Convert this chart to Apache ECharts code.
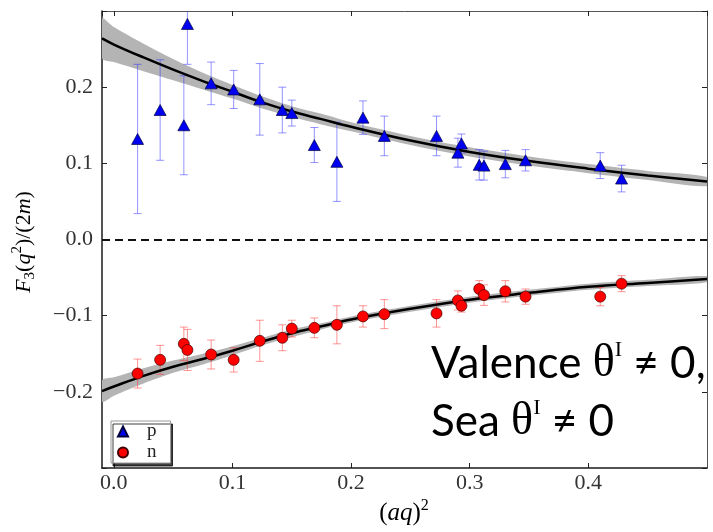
<!DOCTYPE html>
<html>
<head>
<meta charset="utf-8">
<script src="https://cdn.jsdelivr.net/npm/echarts@6/dist/echarts.min.js"></script>
<style>html,body{margin:0;padding:0;background:#fff}#c{width:713px;height:532px}</style>
</head>
<body>
<div id="c"></div>
<script>
// ---- data ----
const xs = [0.020, 0.039, 0.059, 0.062, 0.082, 0.101, 0.123, 0.142, 0.150, 0.169, 0.188, 0.210, 0.228, 0.272, 0.290, 0.293, 0.308, 0.312, 0.330, 0.347, 0.410, 0.428];
const pY = [0.132, 0.170, 0.150, 0.283, 0.205, 0.197, 0.184, 0.170, 0.166, 0.124, 0.102, 0.160, 0.136, 0.136, 0.114, 0.126, 0.098, 0.097, 0.099, 0.104, 0.097, 0.080];
const pErr = [0.098, 0.066, 0.065, 0.053, 0.028, 0.025, 0.047, 0.030, 0.017, 0.023, 0.052, 0.022, 0.026, 0.026, 0.019, 0.0125, 0.020, 0.019, 0.018, 0.014, 0.017, 0.0175];
const nY = [-0.176, -0.158, -0.137, -0.145, -0.151, -0.158, -0.133, -0.129, -0.117, -0.116, -0.112, -0.101, -0.098, -0.097, -0.080, -0.087, -0.065, -0.073, -0.068, -0.075, -0.075, -0.058];
const nErr = [0.019, 0.019, 0.022, 0.027, 0.019, 0.016, 0.027, 0.017, 0.011, 0.013, 0.025, 0.014, 0.019, 0.018, 0.0125, 0.0083, 0.011, 0.0135, 0.014, 0.010, 0.012, 0.0105];

const fitX = [-0.01, 0, 0.025, 0.05, 0.075, 0.1, 0.125, 0.15, 0.175, 0.2, 0.25, 0.3, 0.35, 0.4, 0.45, 0.5];
const fitP = [0.264, 0.256, 0.239, 0.223, 0.208, 0.194, 0.180, 0.168, 0.158, 0.148, 0.130, 0.115, 0.103, 0.093, 0.084, 0.076];
const bandP = [0.026, 0.023, 0.018, 0.014, 0.011, 0.009, 0.008, 0.007, 0.007, 0.006, 0.006, 0.006, 0.006, 0.006, 0.006, 0.006];
const fitN = [-0.199, -0.193, -0.179, -0.167, -0.157, -0.146, -0.134, -0.123, -0.114, -0.105, -0.091, -0.079, -0.070, -0.062, -0.057, -0.052];
const bandN = [0.014, 0.012, 0.010, 0.008, 0.007, 0.006, 0.005, 0.005, 0.004, 0.004, 0.004, 0.004, 0.004, 0.004, 0.004, 0.004];

const xMin = -0.01, xMax = 0.5, yMin = -0.3, yMax = 0.3;
const seriesNames = ['p', 'n'];

const SERIF = "'Liberation Serif', 'DejaVu Serif', serif";

function fmtTick(v) {
  if (Math.abs(v * 10 - Math.round(v * 10)) > 1e-6) return '';
  if (Math.abs(v) > 0.25) return '';
  const s = Math.abs(v).toFixed(1);
  return v < -1e-9 ? '\u2212' + s : s;
}
function fmtX(v) {
  if (Math.abs(v * 10 - Math.round(v * 10)) > 1e-6) return '';
  if (v > 0.45 || v < -0.001) return '';
  return Math.abs(v).toFixed(1);
}

function bandRender(fit, hw) {
  return function (params, api) {
    if (params.dataIndex !== 0) return null;
    const pts = [];
    for (let i = 0; i < fitX.length; i++) pts.push(api.coord([fitX[i], fit[i] + hw[i]]));
    for (let i = fitX.length - 1; i >= 0; i--) pts.push(api.coord([fitX[i], fit[i] - hw[i]]));
    return { type: 'polygon', shape: { points: pts, smooth: 0.3 }, style: { fill: '#b4b4b4' } };
  };
}
function errRender(color) {
  return function (params, api) {
    const x = api.value(0), y = api.value(1), e = api.value(2);
    const t = api.coord([x, y + e]), b = api.coord([x, y - e]);
    const cw = 4;
    const st = { stroke: color, lineWidth: 1 };
    return { type: 'group', children: [
      { type: 'line', shape: { x1: t[0], y1: t[1], x2: b[0], y2: b[1] }, style: st },
      { type: 'line', shape: { x1: t[0] - cw, y1: t[1], x2: t[0] + cw, y2: t[1] }, style: st },
      { type: 'line', shape: { x1: b[0] - cw, y1: b[1], x2: b[0] + cw, y2: b[1] }, style: st }
    ] };
  };
}

const chart = echarts.init(document.getElementById('c'), null, { renderer: 'canvas' });
const axisCommon = {
  type: 'value', min: xMin, max: xMax, splitNumber: 5,
  splitLine: { show: false },
  axisTick: { show: true, inside: true, length: 5, lineStyle: { color: '#222', width: 1 } }
};
const option = {
  animation: false,
  backgroundColor: '#fff',
  grid: { left: 102, right: 6, top: 11, bottom: 64 },
  xAxis: [
    Object.assign({}, axisCommon, {
      position: 'bottom',
      axisLine: { show: true, onZero: false, lineStyle: { color: '#1a1a1a', width: 1.5 } },
      axisLabel: { formatter: fmtX, fontFamily: SERIF, fontSize: 22, color: '#333', margin: 4, showMinLabel: false, showMaxLabel: false }
    }),
    Object.assign({}, axisCommon, {
      position: 'top',
      axisLine: { show: true, onZero: false, lineStyle: { color: '#555', width: 1 } },
      axisLabel: { show: false }
    })
  ],
  yAxis: [
    {
      type: 'value', min: yMin, max: yMax, interval: 0.1, position: 'left',
      splitLine: { show: false },
      axisLine: { show: true, onZero: false, lineStyle: { color: '#1a1a1a', width: 1.5 } },
      axisTick: { show: true, inside: true, length: 5, lineStyle: { color: '#222', width: 1 } },
      axisLabel: { formatter: fmtTick, fontFamily: SERIF, fontSize: 22, color: '#333', margin: 9 }
    },
    {
      type: 'value', min: yMin, max: yMax, interval: 0.1, position: 'right',
      splitLine: { show: false },
      axisLine: { show: true, onZero: false, lineStyle: { color: '#555', width: 1 } },
      axisTick: { show: true, inside: true, length: 5, lineStyle: { color: '#222', width: 1 } },
      axisLabel: { show: false }
    }
  ],
  legend: {
    data: seriesNames, orient: 'vertical', left: 111, top: 421,
    itemWidth: 10, itemHeight: 10, itemGap: 2,
    padding: [1, 14, 1, 6],
    backgroundColor: '#fff', borderColor: '#999', borderWidth: 1, borderRadius: 0,
    shadowColor: 'rgba(0,0,0,0.75)', shadowOffsetX: 2, shadowOffsetY: 3, shadowBlur: 0,
    textStyle: { fontFamily: SERIF, fontSize: 19, color: '#222', padding: [0, 0, 0, 14] }
  },
  series: [
    { type: 'custom', name: 'bandP', renderItem: bandRender(fitP, bandP), data: fitX.map((x, i) => [x, fitP[i]]), clip: true, z: 1, silent: true },
    { type: 'custom', name: 'bandN', renderItem: bandRender(fitN, bandN), data: fitX.map((x, i) => [x, fitN[i]]), clip: true, z: 1, silent: true },
    { type: 'custom', name: 'errP', renderItem: errRender('rgba(60,60,255,0.55)'), data: xs.map((x, i) => [x, pY[i], pErr[i]]), encode: { x: 0, y: 1 }, clip: true, z: 2, silent: true },
    { type: 'custom', name: 'errN', renderItem: errRender('rgba(255,60,60,0.55)'), data: xs.map((x, i) => [x, nY[i], nErr[i]]), encode: { x: 0, y: 1 }, clip: true, z: 2, silent: true },
    {
      type: 'line', name: 'fitP', data: fitX.map((x, i) => [x, fitP[i]]), showSymbol: false, smooth: 0.4,
      lineStyle: { color: '#000', width: 2.5 }, z: 3, silent: true,
      markLine: { silent: true, symbol: 'none', label: { show: false },
        lineStyle: { color: '#111', type: [8, 5], width: 2 }, data: [{ yAxis: 0 }] }
    },
    { type: 'line', name: 'fitN', data: fitX.map((x, i) => [x, fitN[i]]), showSymbol: false, smooth: 0.4,
      lineStyle: { color: '#000', width: 2.5 }, z: 3, silent: true },
    { type: 'scatter', name: 'p', data: xs.map((x, i) => [x, pY[i]]), symbol: 'triangle', symbolSize: [12, 11],
      itemStyle: { color: '#0000f0', borderColor: '#000040', borderWidth: 0.7, opacity: 1 }, z: 4 },
    { type: 'scatter', name: 'n', data: xs.map((x, i) => [x, nY[i]]), symbol: 'circle', symbolSize: 11,
      itemStyle: { color: '#ff0000', borderColor: '#400000', borderWidth: 0.7, opacity: 1 }, z: 4 }
  ],
  graphic: [
    {
      type: 'text', x: 24, y: 242, rotation: Math.PI / 2, z: 10,
      style: {
        text: '{i|F}{sb|3}{n|(}{i|q}{sp|2}{n|)/(2}{i|m}{n|)}',
        align: 'center', verticalAlign: 'middle',
        rich: {
          n: { fontFamily: SERIF, fontSize: 22, color: '#333', lineHeight: 28 },
          i: { fontFamily: SERIF, fontSize: 22, fontStyle: 'italic', color: '#333', lineHeight: 28 },
          sb: { fontFamily: SERIF, fontSize: 15, color: '#333', verticalAlign: 'bottom', lineHeight: 28 },
          sp: { fontFamily: SERIF, fontSize: 15, color: '#333', verticalAlign: 'top', lineHeight: 28 }
        }
      }
    },
    {
      type: 'text', x: 404, y: 513, z: 10,
      style: {
        text: '{n|(}{i|aq}{n|)}{sp|2}',
        align: 'center', verticalAlign: 'middle',
        rich: {
          n: { fontFamily: SERIF, fontSize: 25, color: '#333', lineHeight: 30 },
          i: { fontFamily: SERIF, fontSize: 25, fontStyle: 'italic', color: '#333', lineHeight: 30 },
          sp: { fontFamily: SERIF, fontSize: 16, color: '#333', verticalAlign: 'top', lineHeight: 30 }
        }
      }
    },
    {
      type: 'text', x: 431, y: 364, z: 10,
      style: {
        text: '{s|Valence }{t|\u03b8}{sp|I}{s| \u2260 0,}',
        align: 'left', verticalAlign: 'middle',
        rich: {
          s: { fontFamily: "Lato, 'Open Sans', sans-serif", fontSize: 44, color: '#000', lineHeight: 50 },
          t: { fontFamily: SERIF, fontSize: 46, color: '#000', lineHeight: 50 },
          sp: { fontFamily: SERIF, fontSize: 22, color: '#000', verticalAlign: 'top', lineHeight: 50 }
        }
      }
    },
    {
      type: 'text', x: 431, y: 422, z: 10,
      style: {
        text: '{s|Sea }{t|\u03b8}{sp|I}{s| \u2260 0}',
        align: 'left', verticalAlign: 'middle',
        rich: {
          s: { fontFamily: "Lato, 'Open Sans', sans-serif", fontSize: 44, color: '#000', lineHeight: 50 },
          t: { fontFamily: SERIF, fontSize: 46, color: '#000', lineHeight: 50 },
          sp: { fontFamily: SERIF, fontSize: 22, color: '#000', verticalAlign: 'top', lineHeight: 50 }
        }
      }
    }
  ]
};
chart.setOption(option);
</script>
</body>
</html>
